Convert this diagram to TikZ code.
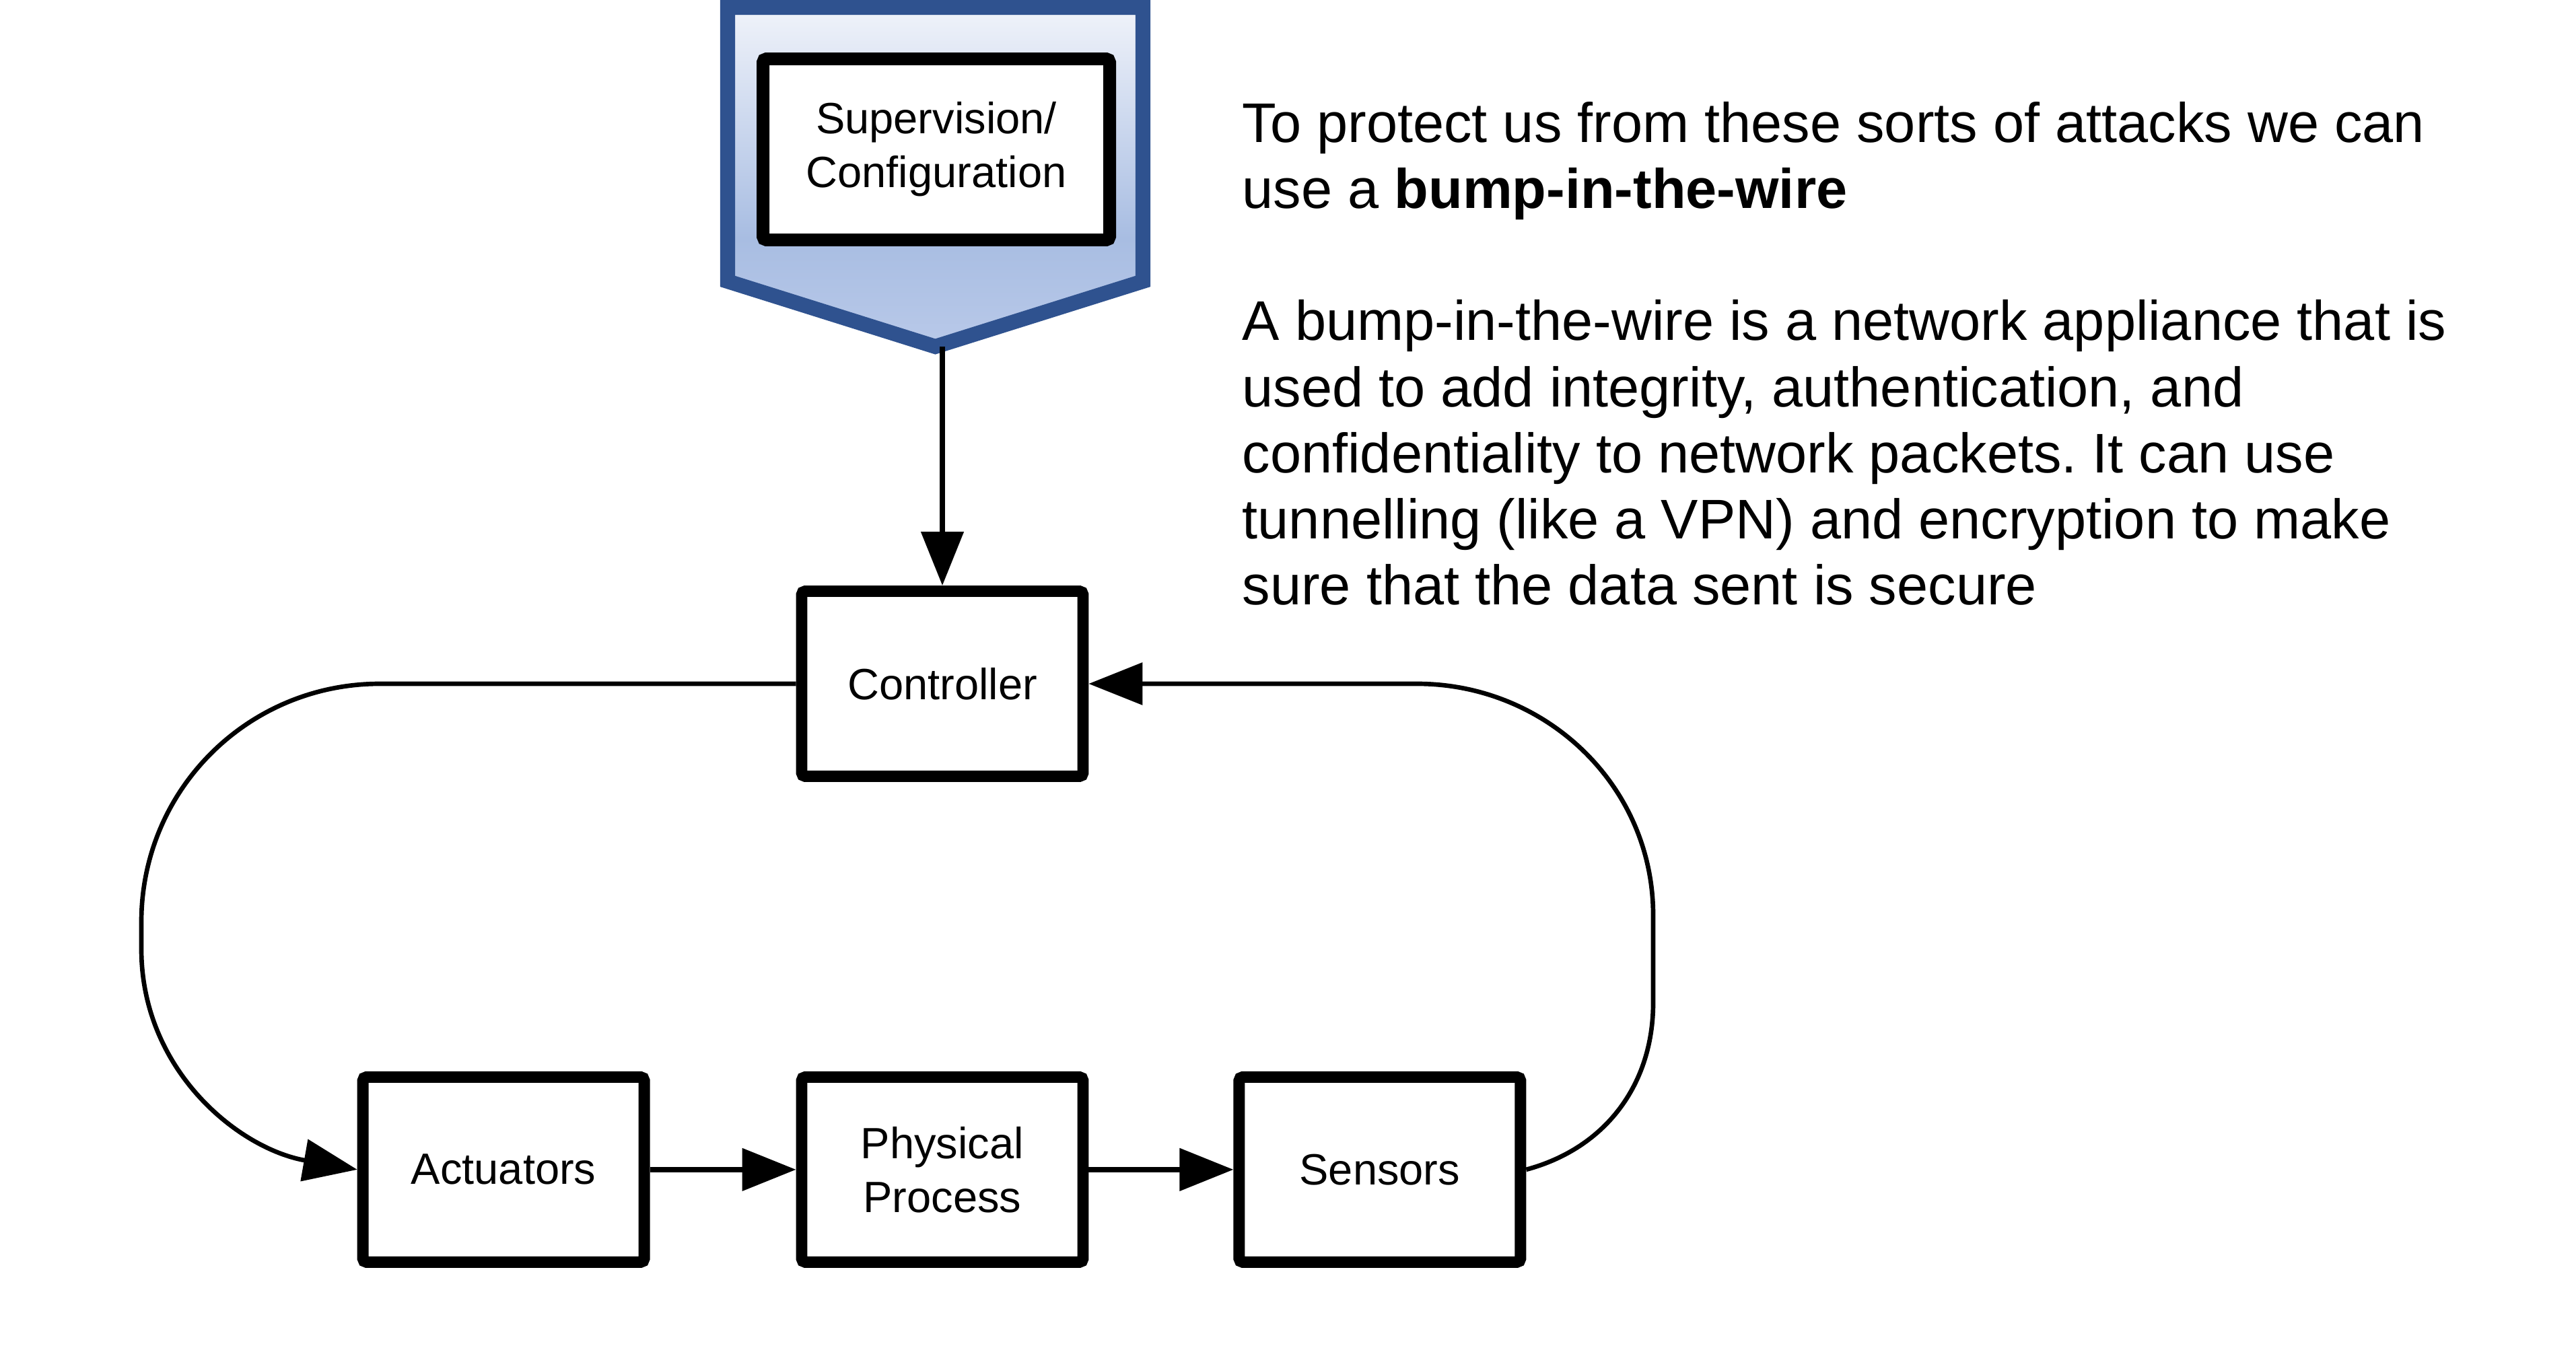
\documentclass[tikz,border=0pt]{standalone}
\usepackage{fontspec}
\setmainfont{Liberation Sans}
\usetikzlibrary{arrows.meta,positioning,shadows}
\frenchspacing
\definecolor{superedge}{RGB}{47,82,143}
\definecolor{supertop}{RGB}{240,243,250}
\definecolor{superbottom}{RGB}{168,189,226}
\definecolor{supertip}{RGB}{185,201,233}
\pgfdeclareverticalshading{supershade}{100bp}{color(0bp)=(supertip); color(25bp)=(supertip);
  color(41bp)=(superbottom); color(75bp)=(supertop); color(100bp)=(supertop)}
\tikzset{
  loopbox/.style={draw=black,line width=4.8pt,fill=white,rounded corners=1.5pt,
    minimum width=4.18cm,minimum height=2.75cm,inner sep=0pt,align=center,
    font=\fontsize{18.5}{22.8}\selectfont},
  lifted/.style={drop shadow={shadow xshift=0pt,shadow yshift=-1.6pt,opacity=0.3}},
  flow/.style={-{Triangle[length=0.8cm,width=0.62cm]},line width=2.3pt},
  loopflow/.style={flow,line width=1.9pt},
}

\begin{document}
\begin{tikzpicture}
    \useasboundingbox (0,0) rectangle (38.27,19.99);
    % the supervisory layer hangs on a shaded tag above the loop
    \shadedraw[draw=superedge,line width=6.3pt,shading=supershade]
      (10.81,19.88) -- (16.98,19.88) -- (16.98,15.81) -- (13.895,14.84)
      -- (10.81,15.81) -- cycle;
    \coordinate (suptip) at (13.895,14.84);
    \node[loopbox,line width=5.4pt,minimum width=5.15cm,minimum height=2.69cm]
      (super) at (13.91,17.77) {Supervision/\\Configuration};
    \node[loopbox,lifted] (ctrl) at (14.00,9.83) {Controller};
    \node[loopbox,lifted,below=4.3cm of ctrl] (phys) {Physical\\Process};
    \node[loopbox,lifted,left=2.17cm of phys] (act) {Actuators};
    \node[loopbox,lifted,right=2.15cm of phys] (sens) {Sensors};
    \draw[flow] (ctrl.north |- suptip) -- (ctrl.north);
    \draw[flow] (act) -- (phys);
    \draw[flow] (phys) -- (sens);
    \draw[loopflow] (ctrl.west) -- ++(-6.18,0) to[out=180,in=90] (2.10,6.29)
      -- (2.10,5.89) to[out=270,in=170] (act.west);
    \draw[loopflow] (sens.east) to[out=15,in=270] (24.56,5.09) -- (24.56,6.39)
      to[out=90,in=0] (21.05,9.83) -- (ctrl.east);
    \node[anchor=north west,inner sep=0pt,align=left,
      font=\fontsize{23.6}{27.9}\selectfont] (note) at (18.45,18.48)
      {To protect us from these sorts of attacks we can\\
       use a \textbf{bump-in-the-wire}\\[27.9pt]
       A bump-in-the-wire is a network appliance that is\\
       used to add integrity, authentication, and\\
       confidentiality to network packets. It can use\\
       tunnelling (like a VPN) and encryption to make\\
       sure that the data sent is secure};
  \end{tikzpicture}
\end{document}
